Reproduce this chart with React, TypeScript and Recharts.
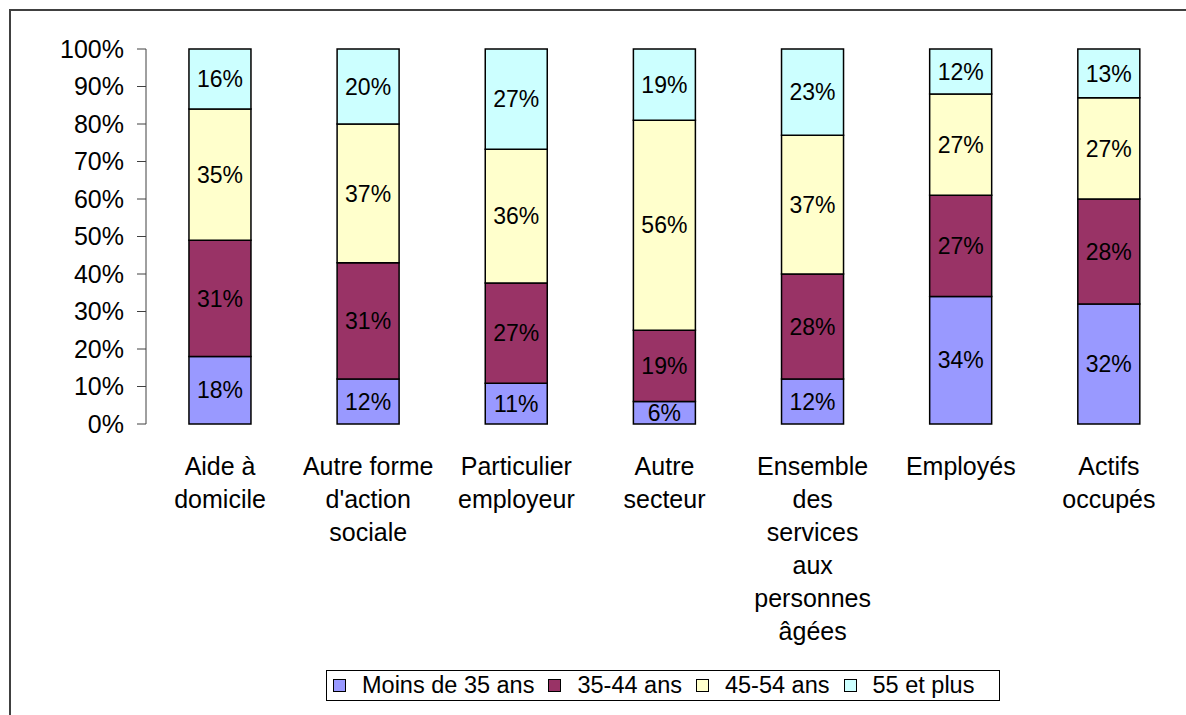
import React from "react";
import {
  BarChart,
  Bar,
  XAxis,
  YAxis,
  Legend,
  LabelList,
} from "recharts";

const categories = [
  "Aide à\ndomicile",
  "Autre forme\nd'action\nsociale",
  "Particulier\nemployeur",
  "Autre\nsecteur",
  "Ensemble\ndes\nservices\naux\npersonnes\nâgées",
  "Employés",
  "Actifs\noccupés",
];

const moins35 = [18, 12, 11, 6, 12, 34, 32];
const ans3544 = [31, 31, 27, 19, 28, 27, 28];
const ans4554 = [35, 37, 36, 56, 37, 27, 27];
const plus55 = [16, 20, 27, 19, 23, 12, 13];

const yTicks = [0, 0.1, 0.2, 0.3, 0.4, 0.5, 0.6, 0.7, 0.8, 0.9, 1];

const SERIES = [
  { key: "moins35", name: "Moins de 35 ans", color: "#9999FF" },
  { key: "a3544", name: "35-44 ans", color: "#993366" },
  { key: "a4554", name: "45-54 ans", color: "#FFFFCC" },
  { key: "p55", name: "55 et plus", color: "#CCFFFF" },
];

const data = categories.map((name, i) => ({
  name,
  moins35: moins35[i],
  a3544: ans3544[i],
  a4554: ans4554[i],
  p55: plus55[i],
}));

const FONT = "'Liberation Sans', Arial, sans-serif";

function CategoryTick({ x, y, payload }: any) {
  const lines = String(payload.value).split("\n");
  return (
    <text x={x} y={y} textAnchor="middle" fontSize={25} fill="#000" fontFamily={FONT}>
      {lines.map((line, i) => (
        <tspan key={i} x={x} dy={i === 0 ? 51 : 33}>
          {line}
        </tspan>
      ))}
    </text>
  );
}

function LegendBox() {
  return (
    <div
      style={{
        border: "1px solid #000",
        background: "#fff",
        display: "flex",
        alignItems: "center",
        height: 31,
        boxSizing: "border-box",
        paddingLeft: 6,
        width: 674,
        fontFamily: FONT,
        fontSize: 23.5,
        color: "#000",
        whiteSpace: "nowrap",
      }}
    >
      {SERIES.map((s) => (
        <span key={s.key} style={{ display: "flex", alignItems: "center", marginRight: 14 }}>
          <span
            style={{
              display: "inline-block",
              width: 11,
              height: 11,
              background: s.color,
              border: "1px solid #000",
              marginRight: 16,
            }}
          />
          {s.name}
        </span>
      ))}
    </div>
  );
}

export default function App() {
  return (
    <div style={{ position: "relative", width: 1186, height: 715, overflow: "hidden" }}>
      <style>{`body{margin:0}`}</style>
      <div
        style={{ position: "absolute", left: 9, top: 9, width: 1177, height: 2, background: "#404040" }}
      />
      <div
        style={{ position: "absolute", left: 9, top: 9, width: 2, height: 706, background: "#404040" }}
      />
      <div style={{ position: "absolute", left: 0, top: 0 }}>
        <BarChart
          width={1186}
          height={715}
          data={data}
          stackOffset="expand"
          barCategoryGap="29%"
          margin={{ top: 49, right: 3, left: 0, bottom: 40 }}
        >
          <XAxis
            dataKey="name"
            axisLine={false}
            tickLine={false}
            tickSize={0}
            tickMargin={0}
            interval={0}
            height={220}
            tick={<CategoryTick />}
          />
          <YAxis
            width={146}
            domain={[0, 1]}
            ticks={yTicks}
            tickFormatter={(v: number) => `${Math.round(v * 100)}%`}
            stroke="#404040"
            tickSize={9}
            tickMargin={13}
            tick={{ fill: "#000", fontSize: 25, fontFamily: FONT }}
          />
          <Legend
            verticalAlign="bottom"
            content={<LegendBox />}
            wrapperStyle={{ left: 326, top: 670, width: "auto", bottom: "auto" }}
          />
          {SERIES.map((s) => (
            <Bar
              key={s.key}
              dataKey={s.key}
              name={s.name}
              stackId="a"
              fill={s.color}
              stroke="#000"
              strokeWidth={1.5}
              isAnimationActive={false}
            >
              <LabelList
                dataKey={s.key}
                position="center"
                formatter={(v: any) => `${v}%`}
                fill="#000"
                fontSize={23}
                fontFamily={FONT}
              />
            </Bar>
          ))}
        </BarChart>
      </div>
    </div>
  );
}
